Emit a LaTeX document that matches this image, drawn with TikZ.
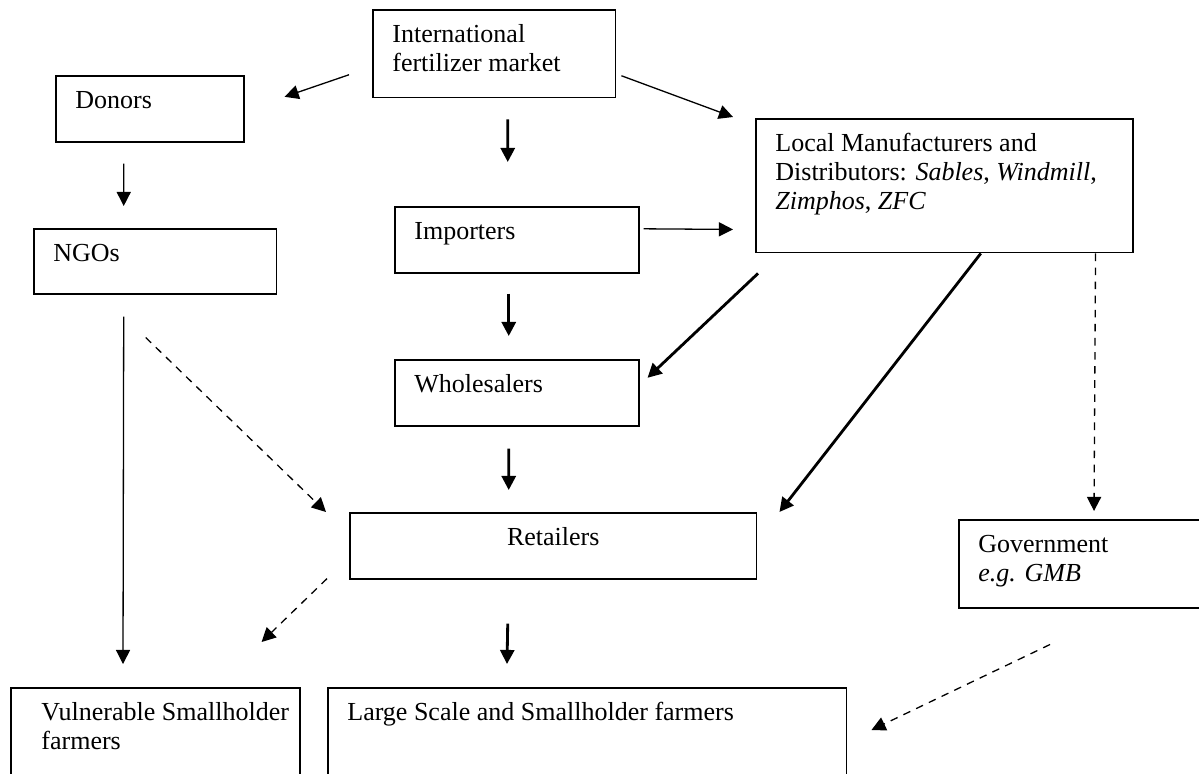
\documentclass[tikz,border=0pt]{standalone}
\usepackage{fontspec}
\setmainfont{Liberation Serif}
\usetikzlibrary{arrows.meta}

\begin{document}
\begin{tikzpicture}[
			x=0.4615pt, y=-0.4615pt,
			box/.style={rectangle, draw, line width=0.7pt, anchor=north west, inner sep=0pt},
			txt/.style={anchor=base west, inner sep=0pt, align=left, font=\fontsize{12}{13.3}\selectfont, xshift=9.2pt, yshift=-15.6pt},
			twolines/.style={yshift=-13.3pt},
			threelines/.style={yshift=-26.6pt},
			arrow/.style={-{Triangle[length=6.5pt, width=6.5pt]}, line width=0.6pt},
			fatarrow/.style={-{Triangle[length=6.5pt, width=6.5pt]}, line width=1.3pt},
			dasharrow/.style={arrow, dash pattern=on 3.5pt off 3pt}
			]
			
			% plocha obrazku
			\fill[white] (0,0) rectangle (1199,773);
			\useasboundingbox (0,0) rectangle (1199,773);
			
			% horni rada: trh, darci, mistni vyrobci
			\node[box, minimum width=112.1pt, minimum height=40.6pt, label={[txt, twolines]north west:International\\fertilizer market}] (intl) at (372,9) {};
			\node[box, minimum width=86.8pt, minimum height=30.5pt, label={[txt]north west:Donors}] (donors) at (55,75) {};
			\node[box, minimum width=174pt, minimum height=61.8pt, label={[txt, threelines]north west:Local Manufacturers and\\Distributors: \textit{Sables}, \textit{Windmill},\\\textit{Zimphos}, \textit{ZFC}}] (local) at (755,118) {};
			
			% stredni sloupec
			\node[box, minimum width=112.1pt, minimum height=30pt, label={[txt]north west:NGOs}] (ngos) at (33,228) {};
			\node[box, minimum width=112.6pt, minimum height=30.5pt, label={[txt]north west:Importers}] (importers) at (394,206) {};
			\node[box, minimum width=112.6pt, minimum height=30.5pt, label={[txt]north west:Wholesalers}] (whole) at (394,359) {};
			\node[box, minimum width=187.8pt, minimum height=30.5pt, label={[txt, anchor=base, xshift=-9.2pt]north:Retailers}] (retail) at (349,512) {};
			\node[box, minimum width=116.3pt, minimum height=40.6pt, label={[txt, twolines]north west:Government\\\textit{e.g. GMB}}] (gov) at (958,519) {};
			
			% farmari dole (orezani okrajem)
			\node[box, minimum width=133.4pt, minimum height=52.2pt, label={[txt, twolines, xshift=5.1pt]north west:Vulnerable Smallholder\\farmers}] (vul) at (10,687) {};
			\node[box, minimum width=239.5pt, minimum height=52.2pt, label={[txt]north west:Large Scale and Smallholder farmers}] (large) at (327,687) {};
			
			% sipky z mezinarodniho trhu
			\draw[arrow] ([shift={(-23,21)}]intl.west) -- ([shift={(40,-12)}]donors.east);
			\draw[arrow] ([shift={(5,22)}]intl.east) -- ([shift={(-22,-1)}]local.north west);
			\draw[fatarrow] ([shift={(13.5,21)}]intl.south) -- ([shift={(-9,-44)}]importers.north);
			
			% levy sloupec
			\draw[arrow] ([shift={(-26,21)}]donors.south) -- ([shift={(-31.5,-22)}]ngos.north);
			\draw[arrow] ([shift={(-31.5,22)}]ngos.south) -- ([shift={(113,-23)}]vul.north west);
			\draw[dasharrow] ([shift={(-9.5,43)}]ngos.south) -- ([shift={(-23,0)}]retail.north west);
			
			% dovozci, velkoobchod, maloobchod
			\draw[arrow] ([shift={(4,-11)}]importers.east) -- ([shift={(-22,-24)}]local.south west);
			\draw[fatarrow] ([shift={(-8,20)}]importers.south) -- ([shift={(-8,-23)}]whole.north);
			\draw[fatarrow] ([shift={(-8,22)}]whole.south) -- ([shift={(-44.5,-22)}]retail.north);
			\draw[fatarrow] ([shift={(-45.5,44)}]retail.south) -- ([shift={(180,-23)}]large.north west);
			\draw[dasharrow] ([shift={(-22,-1)}]retail.south west) -- ([shift={(-39,-45)}]vul.north east);
			
			% mistni vyrobci a vlada
			\draw[fatarrow] ([shift={(3,20)}]local.south west) -- ([shift={(8,-15)}]whole.east);
			\draw[fatarrow] ([shift={(36.5,0)}]local.south) -- ([shift={(22,0)}]retail.north east);
			\draw[dasharrow] ([shift={(-38,0)}]local.south east) -- ([shift={(136,-8)}]gov.north west);
			\draw[dasharrow] ([shift={(92,36)}]gov.south west) -- ([shift={(24,43)}]large.north east);
			
		\end{tikzpicture}
\end{document}
